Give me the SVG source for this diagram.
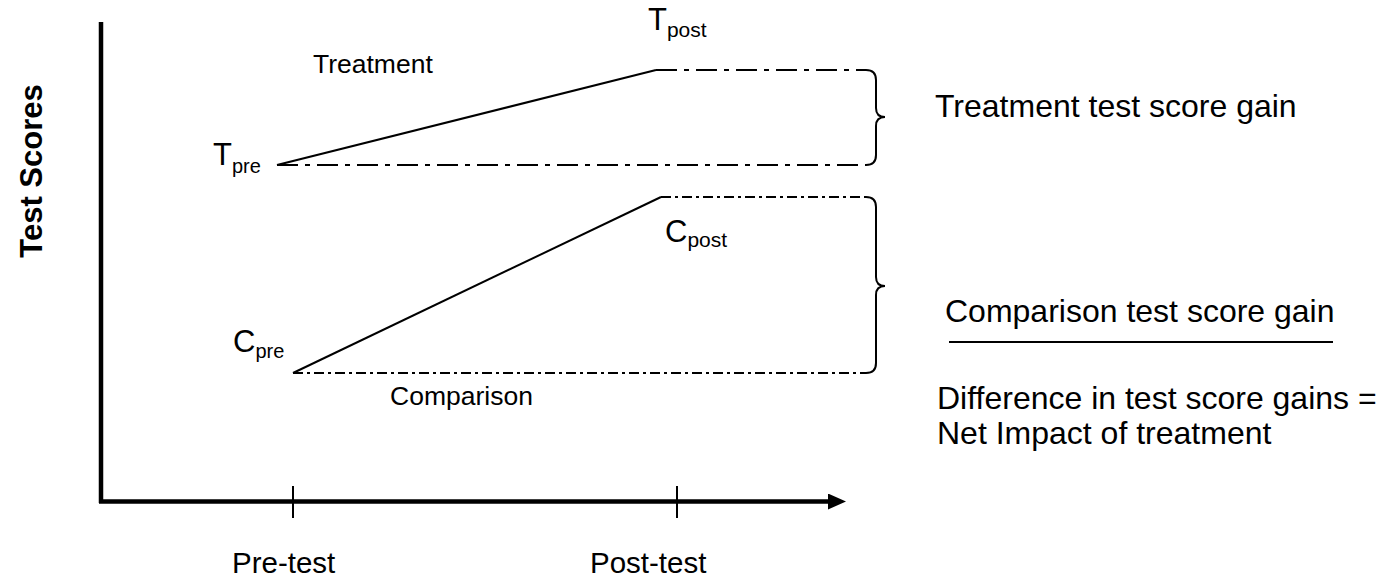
<svg xmlns="http://www.w3.org/2000/svg" width="1391" height="579" viewBox="0 0 1391 579">
<style>
text{font-family:"Liberation Sans",Arial,sans-serif;fill:#000}
.axis{stroke:#000;stroke-width:4.5;fill:none}
.tick{stroke:#000;stroke-width:2}
.solid{stroke:#000;stroke-width:2;fill:none}
.dd1{stroke:#000;stroke-width:2;fill:none;stroke-dasharray:21 7 5 7}
.dd2{stroke:#000;stroke-width:2;fill:none;stroke-dasharray:10 4 3 4}
.brace{stroke:#000;stroke-width:2;fill:none}
.sm{font-size:26.5px}
.lg{font-size:32px}
.ax{font-size:29.5px}
.main{font-size:31px}
.sub{font-size:20px}
</style>
<defs>
<marker id="arr" markerWidth="18" markerHeight="16" refX="0" refY="8" orient="auto" markerUnits="userSpaceOnUse">
<path d="M0,0 L18,8 L0,16 z" fill="#000"/>
</marker>
</defs>
<g id="axes">
<line class="axis" x1="101" y1="22" x2="101" y2="503"/>
<line class="axis" x1="99" y1="501.5" x2="828" y2="501.5" marker-end="url(#arr)"/>
<line class="tick" x1="293" y1="486" x2="293" y2="518"/>
<line class="tick" x1="677" y1="486" x2="677" y2="518"/>
<text transform="rotate(-90 42 171)" x="42" y="171" style="font-size:31px;font-weight:bold" text-anchor="middle">Test Scores</text>
<text class="ax" x="232" y="573">Pre-test</text>
<text class="ax" x="590" y="573">Post-test</text>
</g>
<g id="connectors">
<line class="solid" x1="277" y1="165" x2="656" y2="70"/>
<line class="dd1" x1="656" y1="70" x2="866" y2="70"/>
<line class="dd1" x1="277" y1="165" x2="866" y2="165"/>
<line class="solid" x1="293" y1="373" x2="661" y2="197"/>
<line class="dd2" x1="661" y1="197" x2="866" y2="197"/>
<line class="dd2" x1="293" y1="373" x2="866" y2="373"/>
</g>
<g id="brace-treatment">
<path class="brace" d="M866,70 Q876,70 876,80 L876,108 Q876,117 885,117 Q876,117 876,126 L876,155 Q876,165 866,165"/>
</g>
<g id="brace-comparison">
<path class="brace" d="M866,197 Q876,197 876,207 L876,277 Q876,286 885,286 Q876,286 876,295 L876,363 Q876,373 866,373"/>
</g>
<g id="label-tpre">
<text class="main" x="213" y="165">T<tspan class="sub" dy="8">pre</tspan></text>
</g>
<g id="label-tpost">
<text class="main" x="648" y="30">T<tspan class="sub" dy="7" style="font-size:21px">post</tspan></text>
</g>
<g id="label-cpre">
<text class="main" x="233" y="352">C<tspan class="sub" dy="6">pre</tspan></text>
</g>
<g id="label-cpost">
<text class="main" x="665" y="242">C<tspan class="sub" dy="5" style="font-size:21px">post</tspan></text>
</g>
<g id="label-treatment">
<text class="sm" x="313" y="73">Treatment</text>
</g>
<g id="label-comparison">
<text class="sm" x="390" y="405">Comparison</text>
</g>
<g id="legend">
<text class="lg" x="935" y="117">Treatment test score gain</text>
<text class="lg" x="945" y="322">Comparison test score gain</text>
<line class="solid" x1="949" y1="342" x2="1333" y2="342"/>
<text class="lg" x="937" y="409">Difference in test score gains =</text>
<text class="lg" x="937" y="444">Net Impact of treatment</text>
</g>
</svg>
